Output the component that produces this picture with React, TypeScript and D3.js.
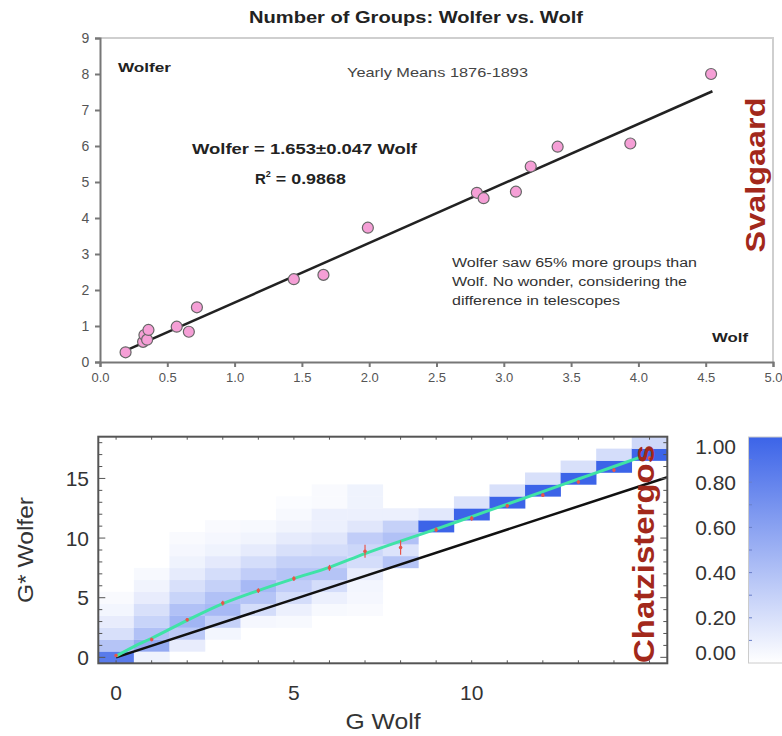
import { useEffect, useRef } from "react";
import * as d3 from "d3";

// top panel: yearly mean group counts 1876-1893
const wolfVals = [0.19, 0.32, 0.33, 0.35, 0.36, 0.57, 0.66, 0.72, 1.44, 1.66, 1.99, 2.8, 2.85, 3.09, 3.2, 3.4, 3.94, 4.54];
const wolferVals = [0.27, 0.56, 0.75, 0.62, 0.89, 0.98, 0.84, 1.52, 2.3, 2.42, 3.73, 4.7, 4.55, 4.73, 5.43, 5.98, 6.07, 8.0];
const fitSlope = 1.653;
const fitRange = [0.19, 4.55];
const topXTicks = ["0.0", "0.5", "1.0", "1.5", "2.0", "2.5", "3.0", "3.5", "4.0", "4.5", "5.0"];
const topYTicks = [0, 1, 2, 3, 4, 5, 6, 7, 8, 9];
const noteLines = ["Wolfer saw 65% more groups than", "Wolf. No wonder, considering the", "difference in telescopes"];
const noteWidths = [245, 235, 168];

// bottom panel: column-normalised 2D histogram, one entry per G Wolf column
const heatLow = [0, 0, 1, 2, 3, 3, 4, 4, 8, 11, 12, 13, 14, 15, 16, 17];
const heatVals = [
  [0.85, 0.38, 0.2, 0.12, 0.06, 0.03],
  [0.08, 0.55, 0.4, 0.28, 0.2, 0.12, 0.07, 0.04],
  [0.12, 0.35, 0.48, 0.4, 0.28, 0.2, 0.13, 0.08, 0.05, 0.03],
  [0.06, 0.3, 0.45, 0.4, 0.3, 0.22, 0.14, 0.08, 0.05, 0.03],
  [0.05, 0.22, 0.38, 0.45, 0.32, 0.22, 0.13, 0.07, 0.04],
  [0.04, 0.1, 0.22, 0.32, 0.38, 0.3, 0.2, 0.13, 0.07, 0.04, 0.02],
  [0.04, 0.1, 0.22, 0.38, 0.3, 0.22, 0.16, 0.1, 0.1, 0.03, 0.03],
  [0.03, 0.05, 0.06, 0.12, 0.22, 0.26, 0.32, 0.16, 0.1, 0.08, 0.08],
  [0.38, 0.18, 0.4, 0.3, 0.1],
  [1.0, 0.15],
  [1.0, 0.18],
  [1.0, 0.2],
  [1.0, 0.2],
  [1.0, 0.2],
  [1.0, 0.22],
  [1.0, 0.25],
];
const meanX = [0, 1, 2, 3, 4, 5, 6, 7, 8, 9, 10, 11, 12, 13, 14, 15];
const meanY = [0.15, 1.5, 3.15, 4.55, 5.6, 6.6, 7.5, 8.9, 9.2, 10.7, 11.65, 12.7, 13.6, 14.7, 15.7, 16.7];
const meanErr = [0.1, 0.15, 0.15, 0.2, 0.2, 0.2, 0.25, 0.55, 0.6, 0.2, 0.2, 0.15, 0.15, 0.15, 0.15, 0.15];
const fitX = [0, 0.5, 1, 2, 3, 4, 5, 6, 7, 8, 9, 10, 11, 12, 13, 14, 14.7];
const fitY = [0.1, 0.9, 1.6, 3.1, 4.5, 5.6, 6.6, 7.55, 8.7, 9.75, 10.75, 11.8, 12.85, 13.9, 14.95, 16.0, 16.75];
const identityPts = [[0, 0], [15.5, 15.1]];
const botXTicks = [0, 5, 10];
const botYTicks = [0, 5, 10, 15];
const barTicks = ["0.00", "0.20", "0.40", "0.60", "0.80", "1.00"];

const BLUE = "#3c64e8";
const RED_NAME = "#a2281b";
const FONT = "'Liberation Sans', Arial, Helvetica, sans-serif";

export default function App() {
  const svgRef = useRef<SVGSVGElement | null>(null);

  useEffect(() => {
    const svg = d3.select(svgRef.current);
    svg.selectAll("*").remove();
    svg.attr("font-family", FONT);

    // ---------- top scatter ----------
    const x1 = d3.scaleLinear().domain([0, 5]).range([100, 773]);
    const y1 = d3.scaleLinear().domain([0, 9]).range([362, 38]);
    const top = svg.append("g");

    const label = (x: number, y: number, t: string, size: number, bold: boolean, width: number, fill = "#222") =>
      top.append("text").attr("x", x).attr("y", y)
        .attr("font-size", size).attr("font-weight", bold ? "bold" : "normal")
        .attr("textLength", width).attr("lengthAdjust", "spacingAndGlyphs")
        .attr("fill", fill).text(t);

    label(249, 23, "Number of Groups: Wolfer vs. Wolf", 17, true, 334);

    top.append("path")
      .attr("d", `M${x1(0)},${y1(9)}H${x1(5)}V${y1(0)}`)
      .attr("fill", "none").attr("stroke", "#cfcfcf").attr("stroke-width", 2);

    top.append("g")
      .attr("transform", `translate(0,${y1(0)})`)
      .call(d3.axisBottom(x1).tickValues(d3.range(0, 5.01, 0.5)).tickFormat((d, i) => topXTicks[i]).tickSizeOuter(0).tickSize(5))
      .call(g => g.select(".domain").attr("stroke", "#777").attr("stroke-width", 2))
      .call(g => g.selectAll(".tick line").attr("stroke", "#777").attr("stroke-width", 2))
      .call(g => g.selectAll(".tick text").attr("font-size", 13).attr("fill", "#555").attr("font-family", FONT).attr("dy", "0.9em"));

    top.append("g")
      .attr("transform", `translate(${x1(0)},0)`)
      .call(d3.axisLeft(y1).tickValues(topYTicks).tickFormat(d3.format("d")).tickSizeOuter(0).tickSize(5))
      .call(g => g.select(".domain").attr("stroke", "#777").attr("stroke-width", 2))
      .call(g => g.selectAll(".tick line").attr("stroke", "#777").attr("stroke-width", 2))
      .call(g => g.selectAll(".tick text").attr("font-size", 14).attr("fill", "#555").attr("font-family", FONT).attr("dx", "-0.2em"));

    top.append("line")
      .attr("x1", x1(fitRange[0])).attr("y1", y1(fitSlope * fitRange[0]))
      .attr("x2", x1(fitRange[1])).attr("y2", y1(fitSlope * fitRange[1]))
      .attr("stroke", "#222").attr("stroke-width", 2.5);

    top.selectAll("circle.pt")
      .data(wolfVals)
      .enter()
      .append("circle")
      .attr("class", "pt")
      .attr("cx", d => x1(d))
      .attr("cy", (d, i) => y1(wolferVals[i]))
      .attr("r", 5.5)
      .attr("fill", "#f59fd6")
      .attr("stroke", "#666")
      .attr("stroke-width", 1.2);

    label(118, 72, "Wolfer", 13, true, 53);
    label(347, 77, "Yearly Means 1876-1893", 13, false, 181, "#444");
    label(192, 154, "Wolfer = 1.653±0.047 Wolf", 15, true, 225);
    const r2 = top.append("text").attr("x", 255).attr("y", 184)
      .attr("font-size", 15).attr("font-weight", "bold").attr("fill", "#222");
    r2.append("tspan").text("R");
    r2.append("tspan").attr("font-size", 9).attr("dy", -7).text("2");
    r2.append("tspan").attr("dy", 7).attr("textLength", 75).attr("lengthAdjust", "spacingAndGlyphs").text(" = 0.9868");
    noteLines.forEach((t, i) => label(452, 267 + i * 19, t, 12.5, false, noteWidths[i], "#333"));
    label(712, 342, "Wolf", 13, true, 36);

    top.append("text")
      .attr("transform", "translate(765,175) rotate(-90)")
      .attr("text-anchor", "middle")
      .attr("font-size", 28).attr("font-weight", "bold").attr("fill", RED_NAME)
      .attr("textLength", 155).attr("lengthAdjust", "spacingAndGlyphs")
      .text("Svalgaard");

    // ---------- bottom heat map ----------
    const x2 = d3.scaleLinear().domain([-0.5, 15.5]).range([98.3, 667.3]);
    const y2 = d3.scaleLinear().domain([-0.5, 18.5]).range([663.3, 436.7]);
    const color = d3.interpolateRgb("#ffffff", BLUE);
    const bot = svg.append("g");

    const cells = heatVals.flatMap((col, c) =>
      col.map((v, k) => ({ gx: meanX[c], gy: heatLow[c] + k, v })));

    bot.selectAll("rect.cell")
      .data(cells)
      .enter()
      .append("rect")
      .attr("class", "cell")
      .attr("x", d => x2(d.gx - 0.5))
      .attr("y", d => y2(d.gy + 0.5))
      .attr("width", x2(1) - x2(0) + 0.3)
      .attr("height", y2(0) - y2(1) + 0.3)
      .attr("fill", d => color(d.v));

    bot.append("line")
      .attr("x1", x2(identityPts[0][0])).attr("y1", y2(identityPts[0][1]))
      .attr("x2", x2(identityPts[1][0])).attr("y2", y2(identityPts[1][1]))
      .attr("stroke", "#111").attr("stroke-width", 2.5);

    const fitLine = d3.line<number>()
      .x(d => x2(d))
      .y((d, i) => y2(fitY[i]))
      .curve(d3.curveMonotoneX);
    bot.append("path")
      .attr("d", fitLine(fitX))
      .attr("fill", "none").attr("stroke", "#3fe3a6").attr("stroke-width", 3);

    const means = bot.append("g");
    meanX.forEach((mx, i) => {
      means.append("line")
        .attr("x1", x2(mx)).attr("x2", x2(mx))
        .attr("y1", y2(meanY[i] - meanErr[i])).attr("y2", y2(meanY[i] + meanErr[i]))
        .attr("stroke", "#e8554a").attr("stroke-width", 1.2);
      means.append("circle")
        .attr("cx", x2(mx)).attr("cy", y2(meanY[i])).attr("r", 1.8)
        .attr("fill", "#e8554a");
    });

    // frame and ticks
    const frame = bot.append("g");
    frame.append("rect")
      .attr("x", x2(-0.5)).attr("y", y2(18.5))
      .attr("width", x2(15.5) - x2(-0.5)).attr("height", y2(-0.5) - y2(18.5))
      .attr("fill", "none").attr("stroke", "#555").attr("stroke-width", 2);
    d3.range(0, 16).forEach(v => {
      frame.append("line").attr("x1", x2(v)).attr("x2", x2(v))
        .attr("y1", y2(-0.5)).attr("y2", y2(-0.5) - 3).attr("stroke", "#555");
      frame.append("line").attr("x1", x2(v)).attr("x2", x2(v))
        .attr("y1", y2(18.5)).attr("y2", y2(18.5) + 3).attr("stroke", "#555");
    });
    d3.range(0, 19).forEach(v => {
      const len = v % 5 === 0 ? 7 : 4;
      frame.append("line").attr("x1", x2(-0.5)).attr("x2", x2(-0.5) + len)
        .attr("y1", y2(v)).attr("y2", y2(v)).attr("stroke", "#555");
      frame.append("line").attr("x1", x2(15.5)).attr("x2", x2(15.5) - len)
        .attr("y1", y2(v)).attr("y2", y2(v)).attr("stroke", "#555");
    });

    const tickText = (x: number, y: number, t: string, anchor: string) =>
      bot.append("text").attr("x", x).attr("y", y).attr("text-anchor", anchor)
        .attr("font-size", 21).attr("fill", "#333").text(t);
    botXTicks.forEach(v => tickText(x2(v), 700, String(v), "middle"));
    botYTicks.forEach(v => tickText(89, y2(v) + 7.5, String(v), "end"));

    bot.append("text")
      .attr("x", 383).attr("y", 729).attr("text-anchor", "middle")
      .attr("font-size", 22).attr("fill", "#333")
      .attr("textLength", 75).attr("lengthAdjust", "spacingAndGlyphs")
      .text("G Wolf");
    bot.append("text")
      .attr("transform", "translate(33,550) rotate(-90)")
      .attr("text-anchor", "middle")
      .attr("font-size", 22).attr("fill", "#333")
      .attr("textLength", 106).attr("lengthAdjust", "spacingAndGlyphs")
      .text("G* Wolfer");

    // colour bar
    const yb = d3.scaleLinear().domain([0, 1]).range([663, 437]);
    const grad = svg.append("defs").append("linearGradient")
      .attr("id", "cbar").attr("x1", 0).attr("y1", 1).attr("x2", 0).attr("y2", 0);
    grad.append("stop").attr("offset", 0).attr("stop-color", "#ffffff");
    grad.append("stop").attr("offset", 1).attr("stop-color", BLUE);
    bot.append("rect")
      .attr("x", 748.5).attr("y", yb(1))
      .attr("width", 40).attr("height", yb(0) - yb(1))
      .attr("fill", "url(#cbar)").attr("stroke", "#ccc");
    d3.range(0.1, 1, 0.1).forEach(v => {
      bot.append("line").attr("x1", 749).attr("x2", 752)
        .attr("y1", yb(v)).attr("y2", yb(v)).attr("stroke", "#6a7fc8");
    });
    barTicks.forEach((t, i) => {
      const v = i * 0.2;
      const yy = i === 0 ? 652.5 : i === 5 ? 446 : yb(v);
      tickText(736, yy + 7.5, t, "end");
    });

    bot.append("text")
      .attr("transform", "translate(654,554) rotate(-90)")
      .attr("text-anchor", "middle")
      .attr("font-size", 29).attr("font-weight", "bold").attr("fill", RED_NAME)
      .attr("textLength", 218).attr("lengthAdjust", "spacingAndGlyphs")
      .text("Chatzistergos");
  }, []);

  return (
    <svg
      ref={svgRef}
      width={782}
      height={736}
      style={{ position: "absolute", left: 0, top: 0, background: "#fff" }}
    />
  );
}
